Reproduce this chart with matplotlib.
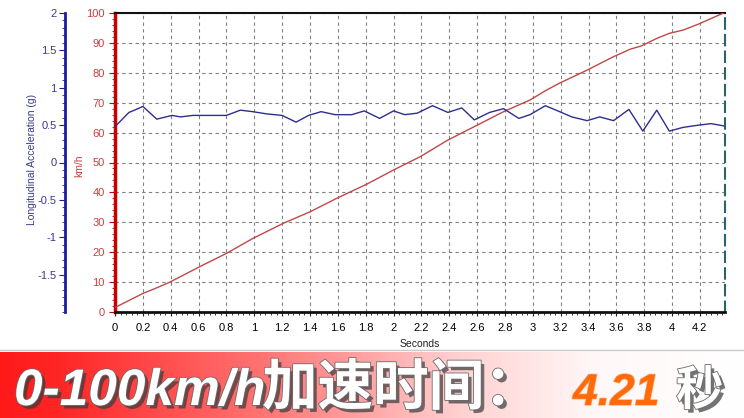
import numpy as np
import matplotlib
matplotlib.use('Agg')
import matplotlib.pyplot as plt
import matplotlib.patheffects as pe
from matplotlib import font_manager as fm
from matplotlib.ticker import MultipleLocator, FormatStrFormatter

# speed trace (km/h)
speed_t = [0, 0.2, 0.29, 0.39, 0.61, 0.8, 0.99, 1.21, 1.4, 1.6, 1.81, 2.0, 2.19,
           2.39, 2.58, 2.79, 2.98, 3.09, 3.19, 3.39, 3.58, 3.7, 3.78, 3.89, 3.98,
           4.08, 4.19, 4.37]
speed_kmh = [1.5, 6.2, 7.9, 9.9, 15.2, 19.6, 24.6, 29.7, 33.5, 38.2, 42.8, 47.5, 51.9,
             57.5, 62.0, 67.0, 70.9, 74.0, 76.5, 80.9, 85.4, 87.9, 89.0, 91.5, 93.2,
             94.3, 96.3, 100.0]

# longitudinal acceleration (g)
acc_t = [0, 0.1, 0.14, 0.2, 0.3, 0.41, 0.47, 0.56, 0.8, 0.9, 0.99, 1.09, 1.2, 1.3,
         1.39, 1.48, 1.58, 1.7, 1.79, 1.9, 2.0, 2.08, 2.17, 2.28, 2.39, 2.49, 2.58,
         2.69, 2.79, 2.9, 2.98, 3.09, 3.18, 3.28, 3.39, 3.48, 3.58, 3.69, 3.79, 3.89,
         3.98, 4.08, 4.19, 4.28, 4.37]
acc_g = [0.48, 0.67, 0.70, 0.75, 0.58, 0.63, 0.61, 0.63, 0.63, 0.70, 0.68, 0.65,
         0.63, 0.54, 0.63, 0.68, 0.64, 0.64, 0.69, 0.59, 0.69, 0.64, 0.66, 0.76,
         0.67, 0.73, 0.57, 0.67, 0.72, 0.59, 0.64, 0.76, 0.69, 0.61, 0.56, 0.61,
         0.56, 0.71, 0.42, 0.70, 0.42, 0.47, 0.50, 0.52, 0.49]

t_end = 4.38
banner_prefix = '0-100km/h'
banner_cn = '加速时间：'
banner_value = '4.21'
banner_unit = '秒'

names = {f.name for f in fm.fontManager.ttflist}
plt.rcParams['font.family'] = ['Liberation Sans', 'DejaVu Sans']
narrow = 'Liberation Sans Narrow' if 'Liberation Sans Narrow' in names else 'Liberation Sans'

W, H = 744, 418
fig = plt.figure(figsize=(W / 100, H / 100), dpi=100)

red = '#c80000'
red_txt = '#c84040'
blue = '#1c1ca0'
blue_txt = '#3a3a8c'

ax = fig.add_axes([115 / W, 1 - 312 / H, 610 / W, 299 / H])
ax.plot(speed_t, speed_kmh, color='#c04848', lw=1.0, zorder=3)
ax.set_xlim(0, t_end)
ax.set_ylim(0, 100)
ax.xaxis.set_major_locator(MultipleLocator(0.2))
ax.xaxis.set_minor_locator(MultipleLocator(0.04))
ax.xaxis.set_major_formatter(FormatStrFormatter('%g'))
ax.yaxis.set_major_locator(MultipleLocator(10))
ax.yaxis.set_minor_locator(MultipleLocator(2))
ax.grid(True, which='major', color='#808080', lw=0.8, ls=(0, (3, 3)))
ax.set_axisbelow(True)
ax.tick_params(axis='x', which='both', direction='out', labelsize=8, color='#222222',
               pad=5)
ax.tick_params(axis='x', which='major', length=3)
ax.tick_params(axis='x', which='minor', length=2)
ax.tick_params(axis='y', which='both', direction='out', labelsize=8, colors=red_txt)
ax.tick_params(axis='y', which='major', length=4, color=red)
ax.tick_params(axis='y', which='minor', length=2, color=red)
ax.spines['left'].set_color(red)
ax.spines['left'].set_linewidth(2.5)
ax.spines['bottom'].set_color('#111111')
ax.spines['bottom'].set_linewidth(2)
ax.spines['top'].set_color('#111111')
ax.spines['top'].set_linewidth(1.5)
ax.spines['right'].set_color('#2a6464')
ax.spines['right'].set_linewidth(1.5)
ax.spines['right'].set_linestyle((0, (5, 3)))
ax.set_xlabel('Seconds', fontsize=7.5, labelpad=4, color='#222222')
ax.set_ylabel('km/h', fontsize=7.5, color=red_txt)
ax.yaxis.set_label_coords(-0.05, 0.49)

ax2 = ax.twinx()
ax2.plot(acc_t, acc_g, color='#2e2e8e', lw=1.0, zorder=4)
ax2.set_ylim(-2, 2)
ax2.set_yticks([-1.5, -1, -0.5, 0, 0.5, 1, 1.5, 2])
ax2.yaxis.set_major_formatter(FormatStrFormatter('%g'))
ax2.yaxis.set_minor_locator(MultipleLocator(0.1))
ax2.yaxis.tick_left()
ax2.yaxis.set_label_position('left')
for s in ['right', 'top', 'bottom']:
    ax2.spines[s].set_visible(False)
ax2.spines['left'].set_visible(True)
ax2.spines['left'].set_position(('outward', 36))
ax2.spines['left'].set_color(blue)
ax2.spines['left'].set_linewidth(2)
ax2.tick_params(axis='y', which='both', direction='out', labelsize=8, colors=blue_txt,
                pad=2)
ax2.tick_params(axis='y', which='major', length=4, color=blue)
ax2.tick_params(axis='y', which='minor', length=2, color=blue)
ax2.set_ylabel('Longitudinal Acceleration (g)', fontsize=7.5, color=blue_txt)
ax2.yaxis.set_label_coords(-0.128, 0.51)

# banner with red-to-white gradient
line_ax = fig.add_axes([0, 0, 1, 1], zorder=-1)
line_ax.set_axis_off()
line_ax.set_xlim(0, W)
line_ax.set_ylim(H, 0)
line_ax.plot([0, W], [350, 350], color='#c8c8c8', lw=1)

bax = fig.add_axes([0, 0, 1, 66 / H])
bax.set_axis_off()
xs = np.linspace(0, 1, 400)
r = np.ones_like(xs)
gb = np.interp(xs, [0, 0.08, 0.35, 0.62, 0.8, 1], [0.10, 0.15, 0.45, 0.82, 0.97, 1.0])
grad = np.dstack([r, gb, gb])
bax.imshow(grad, aspect='auto', extent=[0, 1, 0, 1])
bax.set_xlim(0, 1)
bax.set_ylim(0, 1)

white_fx = [pe.SimplePatchShadow(offset=(2.5, -2.5), shadow_rgbFace='#3a3a3a', alpha=0.7),
            pe.withStroke(linewidth=1.2, foreground='#6a6a6a')]
base_y = 1 - 405 / H
fig.text(14 / W, base_y, banner_prefix, fontsize=37, fontweight='bold', style='italic',
         family=[narrow, 'Liberation Sans', 'DejaVu Sans'], color='white', path_effects=white_fx)
fig.text(262 / W, base_y, banner_cn, fontsize=40, fontweight='heavy', style='italic',
         family=['Noto Sans CJK SC', 'DejaVu Sans'], color='white', path_effects=white_fx)
fig.text(573 / W, base_y, banner_value, fontsize=32, fontweight='bold', style='italic',
         family=[narrow, 'Liberation Sans', 'DejaVu Sans'], color='#ff6a0a',
         path_effects=[pe.withStroke(linewidth=1, foreground='#ffb080')])
fig.text(676 / W, base_y, banner_unit, fontsize=34, fontweight='heavy',
         family=['Noto Sans CJK SC', 'DejaVu Sans'], color='white', path_effects=white_fx)

fig.savefig('out.png', dpi=100)
